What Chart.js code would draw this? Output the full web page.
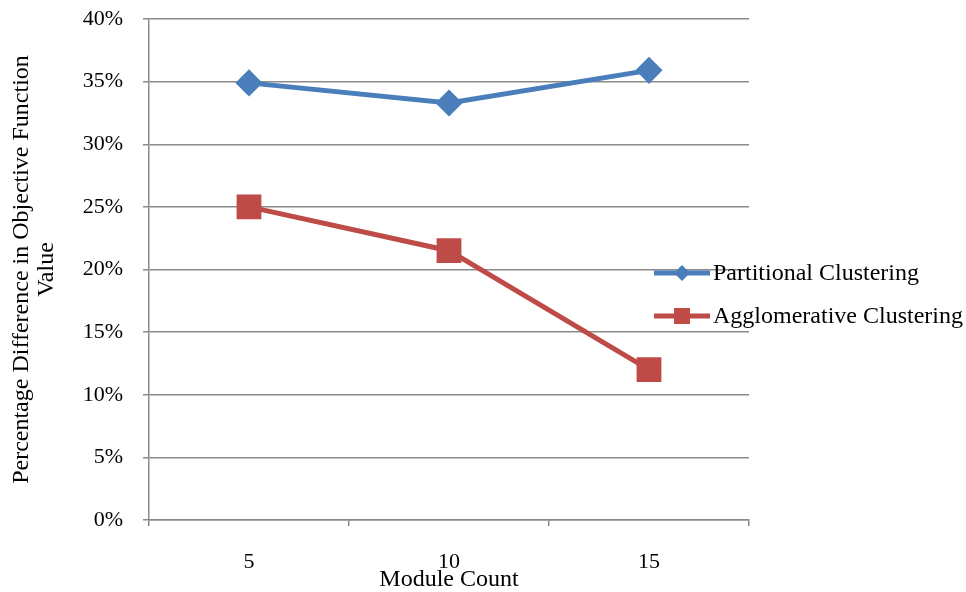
<!DOCTYPE html>
<html>
<head>
<meta charset="utf-8">
<script src="https://cdn.jsdelivr.net/npm/chart.js@4/dist/chart.umd.min.js"></script>
<style>
  html, body { margin: 0; padding: 0; background: #fff; }
  #wrap { width: 966px; height: 592px; }
</style>
</head>
<body>
<div id="wrap"><canvas id="chart" width="966" height="592"></canvas></div>
<script>
// data
const moduleCounts = ['5', '10', '15'];
const partitional = [34.9, 33.3, 35.9];
const agglomerative = [25.0, 21.5, 12.0];
const yTicks = [0, 5, 10, 15, 20, 25, 30, 35, 40];

const FONT = '"Liberation Serif", "Times New Roman", serif';
const GRID = '#8a8a8a';

// legend drawn at the right, line with marker in the middle like Excel
const sideLegend = {
  id: 'sideLegend',
  afterDraw(chart) {
    const ctx = chart.ctx;
    const rows = [273, 316];
    chart.data.datasets.forEach((ds, i) => {
      const y = rows[i];
      ctx.save();
      ctx.strokeStyle = ds.borderColor;
      ctx.lineWidth = 5;
      ctx.beginPath();
      ctx.moveTo(654, y);
      ctx.lineTo(710, y);
      ctx.stroke();
      ctx.fillStyle = ds.borderColor;
      const cx = 682;
      if (ds.pointStyle === 'rectRot') {
        ctx.beginPath();
        ctx.moveTo(cx - 8, y); ctx.lineTo(cx, y - 8);
        ctx.lineTo(cx + 8, y); ctx.lineTo(cx, y + 8);
        ctx.closePath();
        ctx.fill();
      } else {
        ctx.fillRect(cx - 8, y - 8, 16, 16);
      }
      ctx.fillStyle = '#000';
      ctx.font = '24px ' + FONT;
      ctx.textBaseline = 'middle';
      ctx.textAlign = 'left';
      ctx.fillText(ds.label, 713, y + 1);
      ctx.restore();
    });
  }
};

new Chart(document.getElementById('chart'), {
  type: 'line',
  data: {
    labels: moduleCounts,
    datasets: [
      {
        label: 'Partitional Clustering',
        data: partitional,
        borderColor: '#4a7ebb',
        backgroundColor: '#4a7ebb',
        borderWidth: 5,
        pointStyle: 'rectRot',
        pointRadius: 10,
        pointHoverRadius: 10
      },
      {
        label: 'Agglomerative Clustering',
        data: agglomerative,
        borderColor: '#be4b48',
        backgroundColor: '#be4b48',
        borderWidth: 5,
        pointStyle: 'rect',
        pointRadius: 14,
        pointHoverRadius: 14
      }
    ]
  },
  options: {
    responsive: false,
    animation: false,
    layout: { padding: { left: 0, right: 217, top: 19, bottom: 0 } },
    plugins: {
      legend: { display: false },
      tooltip: { enabled: false }
    },
    scales: {
      x: {
        offset: true,
        grid: { offset: true, drawOnChartArea: false, drawTicks: true, tickLength: 6, color: GRID, lineWidth: 1.5 },
        border: { color: GRID, width: 1.5 },
        ticks: { color: '#000', font: { family: FONT, size: 22 }, padding: 23 },
        title: { display: true, text: 'Module Count', color: '#000', font: { family: FONT, size: 24, lineHeight: 1 }, padding: { top: 0, bottom: 0 } },
        afterFit(scale) {
          scale.height = 72;
          scale.paddingLeft = 0;
          scale.paddingRight = 0;
        }
      },
      y: {
        min: 0,
        max: 40,
        afterBuildTicks(scale) { scale.ticks = yTicks.map(v => ({ value: v })); },
        grid: { color: GRID, lineWidth: 1.5, tickLength: 6 },
        border: { color: GRID, width: 1.5 },
        ticks: { color: '#000', font: { family: FONT, size: 22 }, padding: 20, callback: v => v + '%' },
        title: {
          display: true,
          text: ['Percentage Difference in Objective Function', 'Value'],
          color: '#000',
          font: { family: FONT, size: 24, lineHeight: 1.05 },
          padding: { top: 9, bottom: 0 }
        },
        afterFit(scale) {
          scale.width = 149;
          scale.paddingTop = 0;
          scale.paddingBottom = 0;
        }
      }
    }
  },
  plugins: [sideLegend]
});
</script>
</body>
</html>
